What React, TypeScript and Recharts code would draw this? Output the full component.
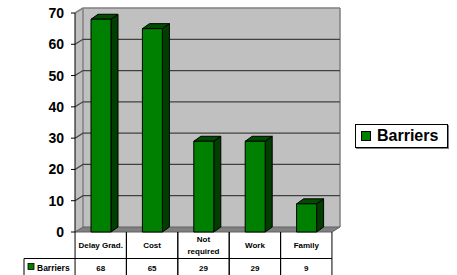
import React from 'react';
import { Bar, BarChart, Legend, ReferenceArea, XAxis, YAxis } from 'recharts';

const CATEGORIES = ['Delay Grad.', 'Cost', 'Not required', 'Work', 'Family'];
const BARRIERS = [68, 65, 29, 29, 9];
const Y_TICKS = [0, 10, 20, 30, 40, 50, 60, 70];
const SERIES_NAME = 'Barriers';

const FONT = '"Liberation Sans", Arial, sans-serif';
const GREEN = '#008000';
const GREEN_SIDE = '#003f00';
const GREEN_TOP = '#004c00';
const WALL = '#c0c0c0';
const WALL_EDGE = '#808080';
const FLOOR = '#808080';
const GRID = '#404040';

// 3D depth of the plot walls and of the bars
const WALL_DX = 8;
const WALL_DY = 5;
const BAR_DX = 7;
const BAR_DY = 5;

// data table under the plot
const CELL_W = 51.3;
const HEAD_H = 26.5;
const ROW_H = 22;
const LABEL_X = 24;

const data = CATEGORIES.map((name, i) => ({ name, value: BARRIERS[i] }));
const bands = Y_TICKS.slice(0, -1).map((t, i) => [t, Y_TICKS[i + 1]]);

// one slice of side wall + back wall between two ticks, with the grid line at its lower edge
function WallBand(props: any) {
  const { x, y, width: w, height: h, first, last } = props;
  const b = y + h;
  return (
    <g>
      <polygon
        points={`${x},${y} ${x + WALL_DX},${y - WALL_DY} ${x + WALL_DX},${b - WALL_DY} ${x},${b}`}
        fill={WALL}
      />
      <rect x={x + WALL_DX} y={y - WALL_DY} width={w} height={h} fill={WALL} />
      <path
        d={`M${x + WALL_DX},${y - WALL_DY} V${b - WALL_DY} M${x + w + WALL_DX},${y - WALL_DY} V${b - WALL_DY}`}
        stroke={WALL_EDGE}
        strokeWidth={1.5}
      />
      {first ? (
        <polygon
          points={`${x},${b} ${x + WALL_DX},${b - WALL_DY} ${x + w + WALL_DX},${b - WALL_DY} ${x + w},${b}`}
          fill={FLOOR}
          stroke="#606060"
        />
      ) : (
        <path
          d={`M${x},${b} L${x + WALL_DX},${b - WALL_DY} L${x + w + WALL_DX},${b - WALL_DY}`}
          fill="none"
          stroke={GRID}
          strokeWidth={1.2}
        />
      )}
      {last && (
        <path
          d={`M${x},${y} L${x + WALL_DX},${y - WALL_DY} L${x + w + WALL_DX},${y - WALL_DY}`}
          fill="none"
          stroke={WALL_EDGE}
          strokeWidth={1.5}
        />
      )}
    </g>
  );
}

function Box3D(props: any) {
  const { x, y, width: w, height: h } = props;
  if (!h) return null;
  return (
    <g stroke="#000" strokeWidth={1} strokeLinejoin="round">
      <polygon
        points={`${x + w},${y} ${x + w + BAR_DX},${y - BAR_DY} ${x + w + BAR_DX},${y + h - BAR_DY} ${x + w},${y + h}`}
        fill={GREEN_SIDE}
      />
      <polygon
        points={`${x},${y} ${x + BAR_DX},${y - BAR_DY} ${x + w + BAR_DX},${y - BAR_DY} ${x + w},${y}`}
        fill={GREEN_TOP}
      />
      <rect x={x} y={y} width={w} height={h} fill={GREEN} />
    </g>
  );
}

function TableTick(props: any) {
  const { x, y, payload, index } = props;
  const name: string = payload.value;
  const lines = name.includes(' ') && !name.includes('.') ? name.split(' ') : [name];
  const left = x - CELL_W / 2;
  const right = x + CELL_W / 2;
  const rowTop = y + HEAD_H;
  return (
    <g fontFamily={FONT} fontWeight="bold" fontSize={8} fill="#000">
      <path
        d={`M${left},${y} V${rowTop + ROW_H} M${right},${y} V${rowTop + ROW_H} M${left},${rowTop} H${right}`}
        stroke="#000"
        strokeWidth={1}
      />
      <text x={x} y={y + HEAD_H / 2 + 3 - (lines.length - 1) * 6} textAnchor="middle">
        {lines.map((l, i) => (
          <tspan key={i} x={x} dy={i === 0 ? 0 : 12}>
            {l}
          </tspan>
        ))}
      </text>
      <text x={x} y={rowTop + 12} textAnchor="middle">
        {BARRIERS[index]}
      </text>
      {index === 0 && (
        <g>
          <path d={`M${LABEL_X},${rowTop + ROW_H} V${rowTop} H${left}`} stroke="#000" fill="none" strokeWidth={1} />
          <rect x={LABEL_X + 4} y={rowTop + 5} width={6} height={6} fill={GREEN} stroke="#000" strokeWidth={0.8} />
          <text x={LABEL_X + 13} y={rowTop + 12} fontSize={8.5}>
            {SERIES_NAME}
          </text>
        </g>
      )}
    </g>
  );
}

function LegendBox() {
  return (
    <div
      style={{
        display: 'flex',
        alignItems: 'center',
        boxSizing: 'border-box',
        width: 93,
        height: 24,
        border: '1px solid #000',
        background: '#fff',
        boxShadow: '1px 1px 0 #808080',
        paddingLeft: 5,
        fontFamily: FONT,
        fontWeight: 'bold',
        fontSize: 16,
        color: '#000',
      }}
    >
      <span
        style={{
          display: 'inline-block',
          boxSizing: 'border-box',
          width: 10,
          height: 10,
          background: GREEN,
          border: '1px solid #000',
          marginRight: 6,
        }}
      />
      {SERIES_NAME}
    </div>
  );
}

export default function App() {
  return (
    <div style={{ position: 'absolute', left: 0, top: 0, background: '#fff' }}>
      <BarChart width={457} height={275} data={data} margin={{ top: 13, right: 125, bottom: 0, left: 0 }}>
        {bands.map(([lo, hi], i) => (
          <ReferenceArea
            key={lo}
            y1={lo}
            y2={hi}
            shape={(p: any) => <WallBand {...p} first={i === 0} last={i === bands.length - 1} />}
          />
        ))}
        <XAxis
          dataKey="name"
          height={43}
          axisLine={false}
          tickLine={false}
          tickSize={0}
          tickMargin={0}
          interval={0}
          tick={<TableTick />}
        />
        <YAxis
          width={75}
          domain={[0, 70]}
          ticks={Y_TICKS}
          axisLine={{ stroke: '#000' }}
          tickLine={{ stroke: '#000' }}
          tickSize={4}
          tickMargin={7}
          tick={{ fill: '#000', fontSize: 14, fontWeight: 'bold', fontFamily: FONT }}
        />
        <Legend
          layout="horizontal"
          verticalAlign="middle"
          align="center"
          content={<LegendBox />}
          wrapperStyle={{ left: 355, top: 124, width: 93 }}
        />
        <Bar dataKey="value" name={SERIES_NAME} barSize={20} shape={<Box3D />} isAnimationActive={false} />
      </BarChart>
    </div>
  );
}
